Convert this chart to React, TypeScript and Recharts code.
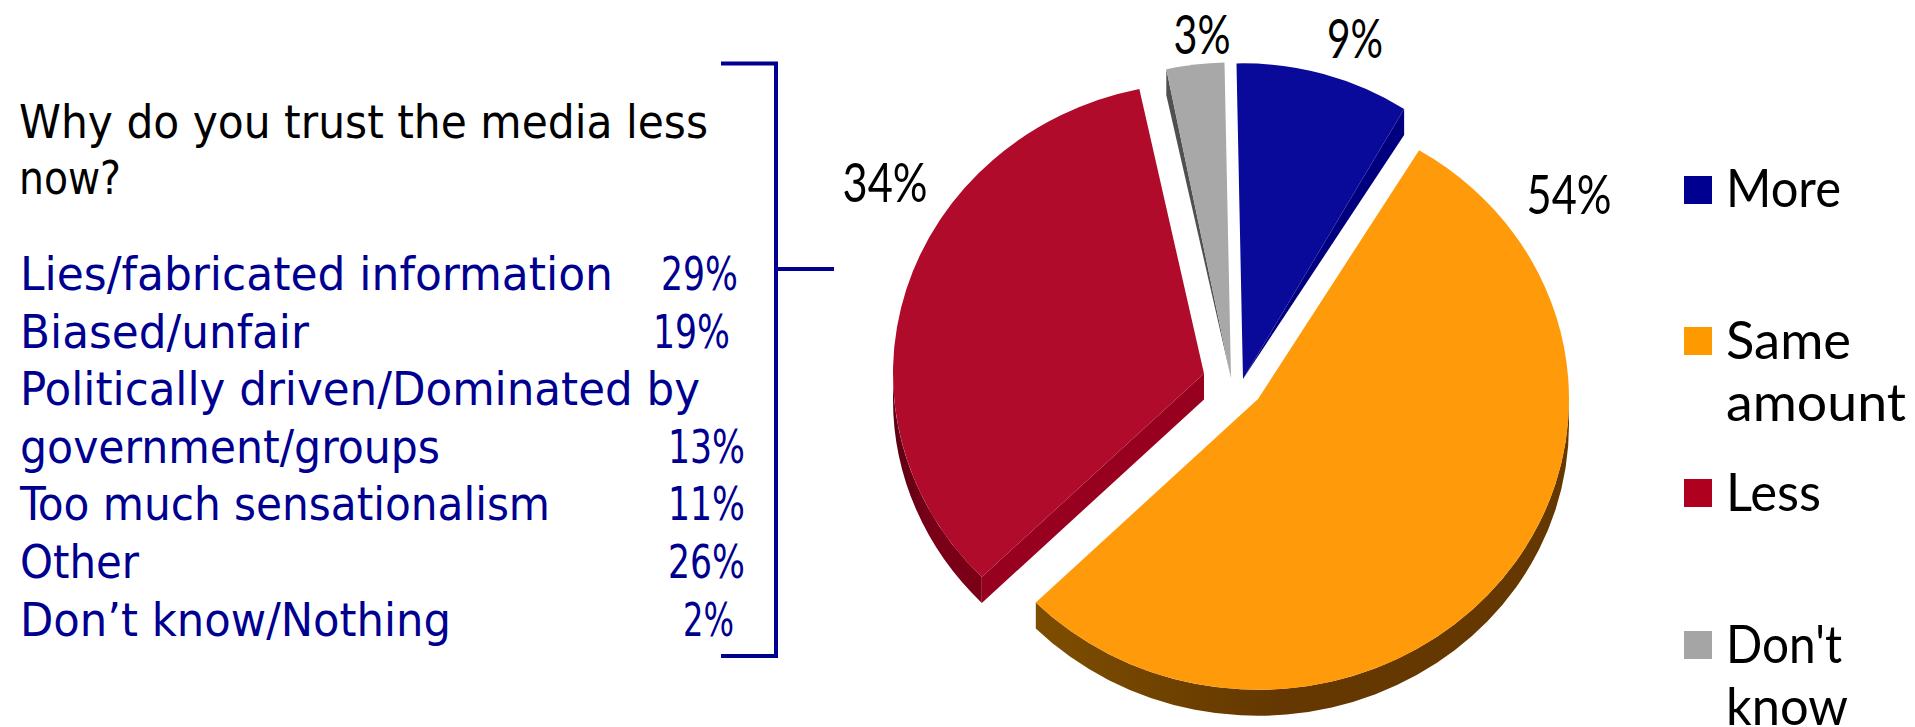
import { PieChart, Pie, Legend } from "recharts"

const categories = ["More", "Same amount", "Less", "Don't know"]
const shares = [9, 54, 34, 3]
const topColors = ["#0a0a9a", "#ff9b0a", "#b00b2b", "#a8a8a8"]
const legendColors = ["#000090", "#ff9900", "#b00020", "#a5a5a5"]
const shareLabels = ["9%", "54%", "34%", "3%"]

const question = ["Why do you trust the media less", "now?"]
const questionWidths = [689, 102]
const reasons = [
  "Lies/fabricated information",
  "Biased/unfair",
  "Politically driven/Dominated by",
  "government/groups",
  "Too much sensationalism",
  "Other",
  "Don’t know/Nothing",
]
const reasonWidths = [593, 289, 680, 420, 530, 119, 431]
const reasonValues = ["29%", "19%", "", "13%", "11%", "26%", "2%"]
const reasonRight = [738, 730, 0, 745, 745, 745, 734]

// hand placed look of the exploded 3D pie, one entry per slice
const sliceLook = [
  { dx: 3, dy: -11, squash: 1.015, wall: "#00007f", wallEdge: "end", wallTaper: true, rim: null },
  { dx: 18, dy: 9, squash: 0.935, wall: null, wallEdge: "end", wallTaper: false, rim: ["#7d4e00", "#643800"] },
  { dx: -36, dy: -16.5, squash: 0.935, wall: "#98001f", wallEdge: "start", wallTaper: false, rim: ["#5c0012", "#7a0018"] },
  { dx: -9, dy: -12, squash: 1.015, wall: "#505050", wallEdge: "start", wallTaper: true, rim: null },
]
const labelSpots = [
  { x: 1355, y: 58, w: 56 },
  { x: 1569, y: 214, w: 85 },
  { x: 885, y: 202, w: 85 },
  { x: 1202, y: 54, w: 57 },
]
const legendRows = [
  { box: 176, lines: [207], widths: [115] },
  { box: 327, lines: [359, 421], widths: [125, 180] },
  { box: 479, lines: [511], widths: [95] },
  { box: 631, lines: [663, 725], widths: [116, 122] },
]

const DEPTH = 26
const RAD = Math.PI / 180
const tableFont = "'DejaVu Sans Condensed', 'DejaVu Sans', sans-serif"
const legendFont = "Lato, sans-serif"
const navy = "#000090"

const tableData = categories.map((name, i) => ({ name, value: shares[i], fill: topColors[i] }))

function Slice(props: any) {
  const { cx, cy, outerRadius, startAngle, endAngle, fill, index } = props
  const look = sliceLook[index]
  const ox = cx + look.dx
  const oy = cy + look.dy
  const rx = outerRadius
  const ry = outerRadius * look.squash
  const pt = (deg: number, drop = 0) =>
    [ox + rx * Math.cos(deg * RAD), oy - ry * Math.sin(deg * RAD) + drop] as const
  const [sx, sy] = pt(startAngle)
  const [ex, ey] = pt(endAngle)
  const large = Math.abs(startAngle - endAngle) > 180 ? 1 : 0
  const top = `M${ox},${oy} L${sx},${sy} A${rx},${ry} 0 ${large} 1 ${ex},${ey} Z`

  // rim: only the lower half of the ellipse faces the viewer
  let rimPath = ""
  if (look.rim) {
    const from = Math.min(startAngle, 0)
    const to = Math.max(endAngle, -180)
    const [ax, ay] = pt(from)
    const [bx, by] = pt(to)
    const [ax2, ay2] = pt(from, DEPTH)
    const [bx2, by2] = pt(to, DEPTH)
    rimPath = `M${ax},${ay} A${rx},${ry} 0 0 1 ${bx},${by} L${bx2},${by2} A${rx},${ry} 0 0 0 ${ax2},${ay2} Z`
  }

  let wallPath = ""
  if (look.wall) {
    const [wx, wy] = look.wallEdge === "end" ? [ex, ey] : [sx, sy]
    // blue and grey sit at the far side, so their wall narrows into the apex
    wallPath = look.wallTaper
      ? `M${ox},${oy} L${wx},${wy} L${wx},${wy + DEPTH} Z`
      : `M${ox},${oy} L${wx},${wy} L${wx},${wy + DEPTH} L${ox},${oy + DEPTH} Z`
  }

  return (
    <g>
      {look.rim && (
        <defs>
          <linearGradient id={`rim-${index}`} x1="0" y1="0" x2="1" y2="0">
            <stop offset="0" stopColor={look.rim[0]} />
            <stop offset="0.45" stopColor={look.rim[1]} />
          </linearGradient>
        </defs>
      )}
      {rimPath && <path d={rimPath} fill={`url(#rim-${index})`} />}
      {wallPath && <path d={wallPath} fill={look.wall as string} />}
      <path d={top} fill={fill} />
    </g>
  )
}

function ShareLabel(props: any) {
  const spot = labelSpots[props.index]
  return (
    <text
      x={spot.x}
      y={spot.y}
      textAnchor="middle"
      fontFamily={legendFont}
      fontSize={54}
      textLength={spot.w}
      lengthAdjust="spacingAndGlyphs"
      fill="#000"
    >
      {shareLabels[props.index]}
    </text>
  )
}

function SideLegend() {
  return (
    <svg width={295} height={587} style={{ display: "block" }}>
      {categories.map((name, i) => {
        const row = legendRows[i]
        const words = row.lines.length > 1 ? name.split(" ") : [name]
        return (
          <g key={name}>
            <rect x={64} y={row.box - 140} width={28} height={28} fill={legendColors[i]} />
            {words.map((w, j) => (
              <text
                key={w}
                x={106}
                y={row.lines[j] - 140}
                fontFamily={legendFont}
                fontSize={51.5}
                textLength={row.widths[j]}
                lengthAdjust="spacingAndGlyphs"
                fill="#000"
              >
                {w}
              </text>
            ))}
          </g>
        )
      })}
    </svg>
  )
}

export default function App() {
  return (
    <div style={{ position: "absolute", left: 0, top: 0, width: 1915, height: 727, background: "#fff" }}>
      <PieChart width={1915} height={727} margin={{ top: 0, right: 0, bottom: 0, left: 0 }}>
        <Pie
          data={tableData}
          dataKey="value"
          nameKey="name"
          cx={1240}
          cy={390}
          innerRadius={0}
          outerRadius={311}
          startAngle={91.2}
          endAngle={-268.8}
          stroke="none"
          shape={Slice}
          label={ShareLabel}
          labelLine={false}
          isAnimationActive={false}
        />
        <Legend
          content={<SideLegend />}
          layout="vertical"
          wrapperStyle={{ position: "absolute", left: 1620, top: 140, width: 295, height: 587, bottom: "auto" }}
        />
        {question.map((line, i) => (
          <text
            key={line}
            x={19}
            y={138 + i * 56}
            fontFamily={tableFont}
            fontStretch="condensed"
            fontSize={46}
            textLength={questionWidths[i]}
            lengthAdjust="spacingAndGlyphs"
            fill="#000"
          >
            {line}
          </text>
        ))}
        {reasons.map((line, i) => (
          <text
            key={line}
            x={20}
            y={290 + i * 57.6}
            fontFamily={tableFont}
            fontStretch="condensed"
            fontSize={46}
            textLength={reasonWidths[i]}
            lengthAdjust="spacingAndGlyphs"
            fill={navy}
          >
            {line}
          </text>
        ))}
        {reasonValues.map((v, i) =>
          v ? (
            <text
              key={v}
              x={reasonRight[i]}
              y={290 + i * 57.6}
              textAnchor="end"
              fontFamily={tableFont}
              fontStretch="condensed"
              fontSize={46}
              textLength={v.length > 2 ? 77 : 51}
              lengthAdjust="spacingAndGlyphs"
              fill={navy}
            >
              {v}
            </text>
          ) : null
        )}
        <path d="M721,63.5 H776 V656 H721 M776,269 H834" fill="none" stroke={navy} strokeWidth={4} />
      </PieChart>
    </div>
  )
}
